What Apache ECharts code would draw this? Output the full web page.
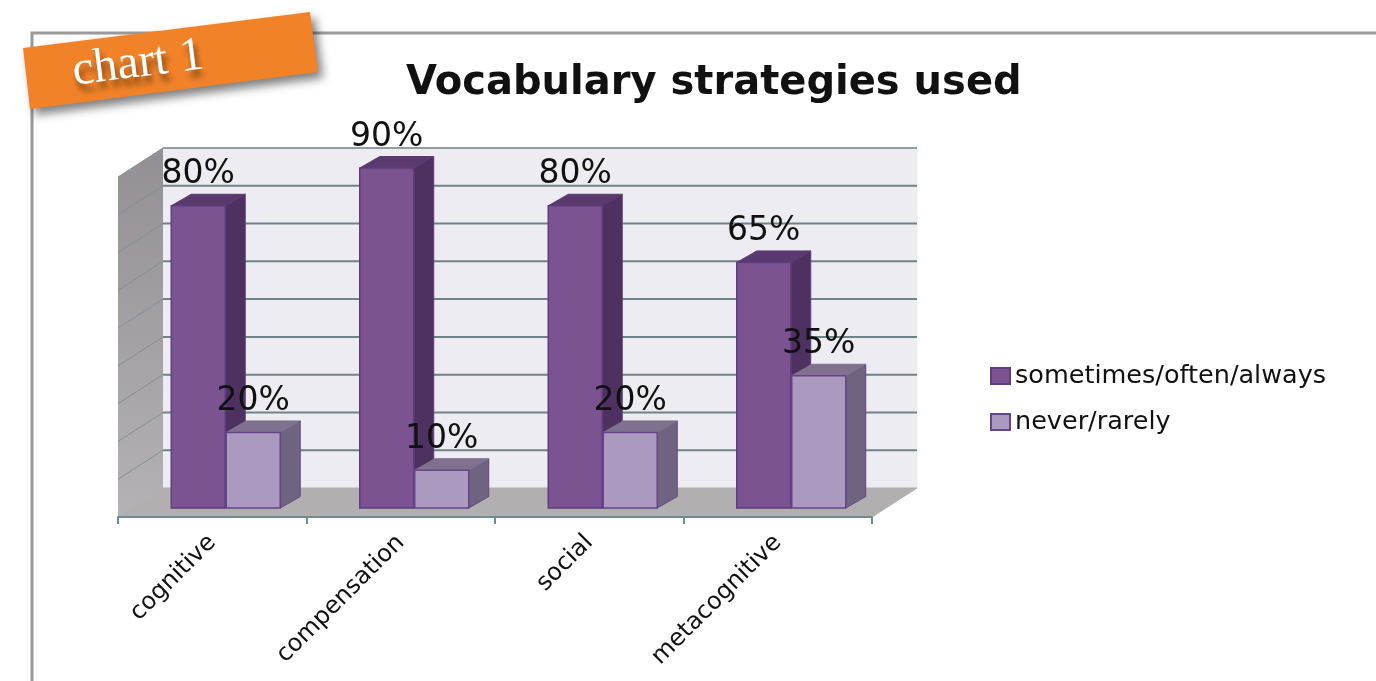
<!DOCTYPE html>
<html>
<head>
<meta charset="utf-8">
<style>html,body{margin:0;padding:0;background:#fff}#c{width:1376px;height:681px}</style>
<script src="https://cdn.jsdelivr.net/npm/echarts@6/dist/echarts.min.js"></script>
</head>
<body>
<div id="c"></div>
<script>
const categories = ['cognitive', 'compensation', 'social', 'metacognitive'];
const frequentValues = [80, 90, 80, 65];
const rareValues = [20, 10, 20, 35];
const yTicks = [0, 10, 20, 30, 40, 50, 60, 70, 80, 90];
const seriesNames = ['sometimes/often/always', 'never/rarely'];
const titleText = 'Vocabulary strategies used';
const badgeText = 'chart 1';

const WALL_DX = 45, WALL_DY = -29;
const BAR_OFF_X = 14, BAR_OFF_Y = -9;
const BAR_DX = 20, BAR_DY = -11.5;
const BAR_W = 54;
const FONT = '"DejaVu Sans", sans-serif';

function poly(points, fill, stroke, lw) {
  return { type: 'polygon', shape: { points }, style: { fill, stroke: stroke || fill, lineWidth: lw === undefined ? 1 : lw } };
}

function wallItem(params, api) {
  const v = api.value(1);
  const band = api.size([1, 0])[0];
  const fl = api.coord([0, v]);
  const fr = api.coord([categories.length - 1, v]);
  const x0 = fl[0] - band / 2;
  const x1 = fr[0] + band / 2;
  const y = fl[1];
  const children = [];
  if (params.dataIndex === 0) {
    const top = api.coord([0, yTicks[yTicks.length - 1]])[1];
    children.push(poly([[x0 + WALL_DX, top + WALL_DY], [x1 + WALL_DX, top + WALL_DY], [x1 + WALL_DX, y + WALL_DY], [x0 + WALL_DX, y + WALL_DY]], '#eeecf3'));
    children.push({
      type: 'polygon',
      shape: { points: [[x0, top], [x0 + WALL_DX, top + WALL_DY], [x0 + WALL_DX, y + WALL_DY], [x0, y]] },
      style: { fill: new echarts.graphic.LinearGradient(0, 0, 0, 1, [{ offset: 0, color: '#938f95' }, { offset: 1, color: '#b4b2b4' }]) }
    });
    children.push(poly([[x0, y], [x0 + WALL_DX, y + WALL_DY], [x1 + WALL_DX, y + WALL_DY], [x1, y]], '#b2afb1'));
  } else {
    children.push({ type: 'line', shape: { x1: x0, y1: y, x2: x0 + WALL_DX, y2: y + WALL_DY }, style: { stroke: '#7f9296', lineWidth: 1 } });
    children.push({ type: 'line', shape: { x1: x0 + WALL_DX, y1: y + WALL_DY, x2: x1 + WALL_DX, y2: y + WALL_DY }, style: { stroke: '#6f8285', lineWidth: v === 90 ? 1.5 : 2 } });
  }
  return { type: 'group', children };
}

function barRenderer(slot, colors) {
  return function (params, api) {
    const cat = api.value(0), val = api.value(1);
    const base = api.coord([cat, 0]);
    const top = api.coord([cat, val]);
    const xl = base[0] + BAR_OFF_X + (slot === 0 ? -BAR_W - 1 : 0);
    const xr = xl + BAR_W;
    const yb = base[1] + BAR_OFF_Y;
    const yt = top[1] + BAR_OFF_Y;
    return {
      type: 'group',
      children: [
        poly([[xr, yt], [xr + BAR_DX, yt + BAR_DY], [xr + BAR_DX, yb + BAR_DY], [xr, yb]], colors.side, colors.edge),
        poly([[xl, yt], [xl + BAR_DX, yt + BAR_DY], [xr + BAR_DX, yt + BAR_DY], [xr, yt]], colors.top, colors.top),
        poly([[xl, yt], [xr, yt], [xr, yb], [xl, yb]], colors.front, colors.edge, 1.5),
        {
          type: 'text', z2: 50,
          style: { x: (xl + xr) / 2, y: yt - 31, text: val + '%', fill: '#111', font: '33px ' + FONT, textAlign: 'center', textVerticalAlign: 'middle' }
        }
      ]
    };
  };
}

const dark = { front: '#7b5391', side: '#4e3160', top: '#5a3a6e', edge: '#5f3d80' };
const light = { front: '#ac99c0', side: '#6f6480', top: '#80718f', edge: '#64458a' };

const chart = echarts.init(document.getElementById('c'), null, { renderer: 'canvas' });
chart.setOption({
  animation: false,
  backgroundColor: '#fff',
  title: {
    text: titleText, left: 401, top: 59,
    textStyle: { fontFamily: FONT, fontWeight: 'bold', fontSize: 40, color: '#111' }
  },
  grid: { left: 118, top: 177, width: 754, height: 340, containLabel: false },
  xAxis: {
    type: 'category', data: categories,
    axisLine: { lineStyle: { color: '#6f8a90', width: 2 } },
    axisTick: { show: true, length: 7, lineStyle: { color: '#6f8a90', width: 2 } },
    axisLabel: { rotate: 45, fontFamily: FONT, fontSize: 24, color: '#111', margin: 22, interval: 0 },
    z: 5
  },
  yAxis: { type: 'value', min: 0, max: 90, interval: 10, show: false, splitLine: { show: false } },
  legend: {
    left: 985, top: 358, orient: 'vertical', itemGap: 20, itemWidth: 19, itemHeight: 16,
    icon: 'rect', data: seriesNames,
    textStyle: { fontFamily: FONT, fontSize: 25.5, color: '#111', padding: [0, 0, 0, 0] },
    selectedMode: false
  },
  series: [
    {
      type: 'custom', name: 'walls', silent: true, clip: false, z: 1,
      encode: { x: 0, y: 1 }, renderItem: wallItem,
      data: yTicks.map(t => [0, t])
    },
    {
      type: 'custom', name: seriesNames[0], clip: false, z: 2,
      itemStyle: { color: dark.front, borderColor: dark.edge, borderWidth: 2 },
      encode: { x: 0, y: 1 }, renderItem: barRenderer(0, dark),
      data: frequentValues.map((v, i) => [i, v])
    },
    {
      type: 'custom', name: seriesNames[1], clip: false, z: 3,
      itemStyle: { color: light.front, borderColor: light.edge, borderWidth: 2 },
      encode: { x: 0, y: 1 }, renderItem: barRenderer(1, light),
      data: rareValues.map((v, i) => [i, v])
    }
  ],
  graphic: [
    { type: 'polyline', z: 0, shape: { points: [[32, 681], [32, 33], [1376, 33]] }, style: { stroke: '#9a9a9c', lineWidth: 3, fill: null } },
    {
      type: 'polygon', z: 20,
      shape: { points: [[23, 48], [310, 12], [318, 72], [30, 109]] },
      style: { fill: '#f28228', shadowColor: 'rgba(0,0,0,0.5)', shadowBlur: 10, shadowOffsetX: 5, shadowOffsetY: 6 }
    },
    {
      type: 'text', z: 21, x: 138, y: 64, rotation: 7.2 * Math.PI / 180,
      style: {
        text: badgeText, font: '48px "Liberation Serif", serif', fill: '#fff',
        align: 'center', verticalAlign: 'middle',
        textShadowColor: 'rgba(70,40,10,0.75)', textShadowBlur: 6, textShadowOffsetX: 3, textShadowOffsetY: 7
      }
    }
  ]
});
</script>
</body>
</html>
